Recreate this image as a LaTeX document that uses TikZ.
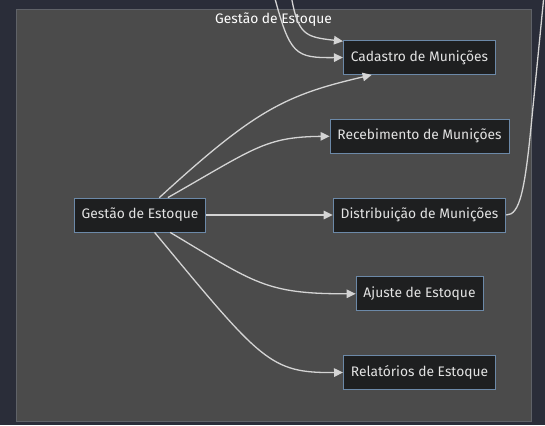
\documentclass[tikz,border=0pt]{standalone}
\usepackage{fontspec}
\setmainfont{Fira Sans}
\usepackage{xcolor}
\usepackage{tikz}
\usetikzlibrary{positioning, arrows.meta}

\definecolor{pagebg}{HTML}{2A2D39}
\definecolor{groupfill}{HTML}{4B4B4B}
\definecolor{groupline}{HTML}{5F6268}
\definecolor{boxfill}{HTML}{1E1F20}
\definecolor{boxline}{HTML}{6C89A8}
\definecolor{textgray}{HTML}{E2E2E2}
\definecolor{edgegray}{HTML}{D4D4D4}

\begin{document}
\begin{tikzpicture}[x=1pt, y=-1pt, node distance=78.75pt,
    box/.style={rectangle, draw=boxline, fill=boxfill, line width=0.8pt, text=textgray,
        font=\fontsize{13.8}{16}\selectfont, minimum height=34pt, inner xsep=7.5pt},
    edge/.style={draw=edgegray, line width=1.3pt, -{Triangle[length=9pt, width=8.5pt]}},
    link/.style={draw=edgegray, line width=1.3pt}]
    \clip (0,0) rectangle (545,425);
    \fill[pagebg] (0,0) rectangle (545,425);
    \draw[groupline, fill=groupfill, line width=1pt] (16,10) rectangle (531,421);
    \node[text=white, font=\fontsize{13.8}{16}\selectfont] (title) at (273.5,20) {Gestão de Estoque};

    \node[box] (distrib) at (419.5,215) {Distribuição de Munições};
    \node[box, above of=distrib] (receb) {Recebimento de Munições};
    \node[box, above of=receb] (cadastro) {Cadastro de Munições};
    \node[box, below of=distrib] (ajuste) {Ajuste de Estoque};
    \node[box, below of=ajuste] (relat) {Relatórios de Estoque};
    \node[box, left of=distrib, xshift=-200.75pt] (gestao) {Gestão de Estoque};

    % edges coming from outside the group
    \coordinate (inA) at (274,-5);
    \coordinate (inB) at (291,-5);
    \coordinate (outC) at (544,-5);

    \draw[edge] (gestao.42) .. controls (255,110) and (285,95) .. (cadastro.-160);
    \draw[edge] (gestao.32) .. controls (255,148) and (265,137) .. (receb.west);
    \draw[edge] (gestao.east) -- (distrib.west);
    \draw[edge] (gestao.-30) .. controls (255,283) and (265,294) .. (ajuste.west);
    \draw[edge] (gestao.-50) .. controls (262,362) and (270,373) .. (relat.west);

    \draw[edge] (inA) .. controls (290,55) and (295,58) .. (cadastro.west);
    \draw[edge] (inB) .. controls (298,35) and (305,37) .. (cadastro.168);
    \draw[link] (distrib.east) .. controls (520,215) and (525,190) .. (532,117) -- (outC);
\end{tikzpicture}
\end{document}
